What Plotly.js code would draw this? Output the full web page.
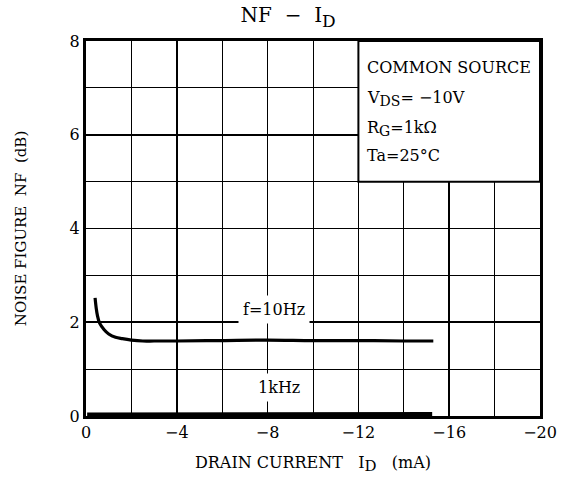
<!DOCTYPE html>
<html>
<head>
<meta charset="utf-8">
<script src="https://cdn.plot.ly/plotly-3.0.1.min.js"></script>
<style>html,body{margin:0;padding:0;background:#fff;}#chart{width:565px;height:480px;}</style>
</head>
<body>
<div id="chart"></div>
<script>
// f = 10 Hz curve
const id10Hz = [-0.4, -0.45, -0.5, -0.6, -0.8, -1.0, -1.3, -1.6, -2.0, -2.5, -3.0, -4.0, -6.0, -8.0, -10.0, -12.0, -14.0, -15.3];
const nf10Hz = [2.52, 2.3, 2.15, 1.98, 1.84, 1.75, 1.68, 1.65, 1.62, 1.6, 1.6, 1.6, 1.61, 1.62, 1.61, 1.61, 1.6, 1.6];
// f = 1 kHz curve
const id1kHz = [-0.05, -4.0, -8.0, -12.0, -15.25];
const nf1kHz = [0.02, 0.02, 0.02, 0.03, 0.03];
// conditions text
const conditions = [
  "COMMON SOURCE",
  "V<sub><span style='font-size:14px'>DS</span></sub>= −10V",
  "R<sub><span style='font-size:14px'>G</span></sub>=1kΩ",
  "Ta=25°C"
];
const condY = [7.44, 6.77, 6.13, 5.55];
const xTickVals = [0, -4, -8, -12, -16, -20];
const xTickText = ["0", "−4", "−8", "−12", "−16", "−20"];

const FONT = "DejaVu Serif, serif";
const traces = [
  {x: id10Hz, y: nf10Hz, mode: "lines", line: {color: "#000", width: 3.2, shape: "spline"}, hoverinfo: "skip"},
  {x: id1kHz, y: nf1kHz, mode: "lines", line: {color: "#000", width: 5}, hoverinfo: "skip"}
];
const annotations = conditions.map((t, i) => ({
  x: -12.3, y: condY[i], xref: "x", yref: "y", text: t, showarrow: false,
  xanchor: "left", yanchor: "middle", font: {family: FONT, size: 16, color: "#000"}
}));
annotations.push({x: -8.3, y: 2.27, xref: "x", yref: "y", text: "f=10Hz", showarrow: false,
  font: {family: FONT, size: 16, color: "#000"}, bgcolor: "#fff", borderpad: 4});
annotations.push({x: -8.5, y: 0.6, xref: "x", yref: "y", text: "1kHz", showarrow: false,
  font: {family: FONT, size: 16, color: "#000"}, bgcolor: "#fff", borderpad: 4});

const layout = {
  width: 565, height: 480,
  margin: {l: 86, r: 25, t: 41, b: 64},
  paper_bgcolor: "#fff", plot_bgcolor: "#fff",
  showlegend: false,
  font: {family: FONT, color: "#000", size: 15},
  title: {text: "NF  −  I<sub><span style='font-size:17px'>D</span></sub>", x: 0.51, xanchor: "center", y: 0.968, yanchor: "middle", font: {family: FONT, size: 20, color: "#000"}},
  xaxis: {
    range: [0, -20], autorange: false,
    tickvals: xTickVals, ticktext: xTickText, ticks: "",
    showgrid: true, gridcolor: "#000", gridwidth: 1.6,
    minor: {dtick: 2, tick0: 0, showgrid: true, gridcolor: "#000", gridwidth: 1},
    showline: true, linecolor: "#000", linewidth: 3, mirror: true,
    zeroline: false,
    tickfont: {family: FONT, size: 16, color: "#000"},
    title: {text: "DRAIN CURRENT&nbsp;&nbsp;&nbsp;I<sub><span style='font-size:15px'>D</span></sub>&nbsp;&nbsp;&nbsp;(mA)", font: {family: FONT, size: 16, color: "#000"}, standoff: 16}
  },
  yaxis: {
    range: [0, 8], autorange: false, dtick: 2, tick0: 0, ticks: "",
    showgrid: true, gridcolor: "#000", gridwidth: 1.6,
    minor: {dtick: 1, tick0: 0, showgrid: true, gridcolor: "#000", gridwidth: 1},
    showline: true, linecolor: "#000", linewidth: 3, mirror: true,
    zeroline: false,
    tickfont: {family: FONT, size: 16, color: "#000"},
    title: {text: "NOISE FIGURE&nbsp;&nbsp;NF&nbsp;&nbsp;(dB)", font: {family: FONT, size: 15, color: "#000"}, standoff: 40}
  },
  shapes: [
    {type: "rect", xref: "x", yref: "y", x0: -12, x1: -20, y0: 5, y1: 8, fillcolor: "#fff", line: {color: "#000", width: 2}, layer: "above"}
  ],
  annotations: annotations
};
Plotly.newPlot("chart", traces, layout, {staticPlot: true, displayModeBar: false});
</script>
</body>
</html>
